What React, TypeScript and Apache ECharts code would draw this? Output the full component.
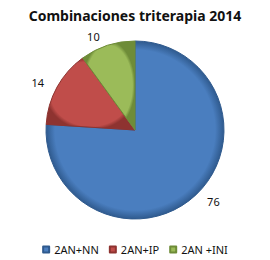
import React, { useEffect, useRef } from "react";
import * as echarts from "echarts";

const title = "Combinaciones triterapia 2014";
const categories = ["2AN+NN", "2AN+IP", "2AN +INI"];
const values = [76, 14, 10];
const colors = ["#4A7EBF", "#C04D4A", "#9BBB59"];
const borders = ["#2F5A8E", "#8E3330", "#6E8C38"];

export default function App() {
  const ref = useRef<HTMLDivElement>(null);
  useEffect(() => {
    const chart = echarts.init(ref.current!, null, { renderer: "svg" });
    chart.setOption({
      animation: false,
      backgroundColor: "#ffffff",
      title: {
        text: title,
        left: "center",
        top: 3,
        textStyle: { fontFamily: "Noto Sans", fontWeight: "bold", fontSize: 14, color: "#111" },
      },
      legend: {
        top: 239,
        left: "center",
        itemWidth: 6,
        itemHeight: 6,
        itemGap: 10,
        icon: "rect",
        textStyle: { fontFamily: "Noto Sans", fontSize: 11, color: "#111" },
        data: categories,
      },
      series: [
        {
          type: "pie",
          center: [135, 130],
          radius: 89,
          startAngle: 90,
          clockwise: true,
          data: categories.map((c, i) => ({
            name: c,
            value: values[i],
            itemStyle: {
              color: new echarts.graphic.RadialGradient(0.5, 0.5, 0.5, [
                { offset: 0, color: colors[i] },
                { offset: 0.9, color: colors[i] },
                { offset: 1, color: borders[i] },
              ]),
              borderColor: borders[i],
              borderWidth: 1,
            },
          })),
          label: {
            show: true,
            position: "outside",
            formatter: "{c}",
            fontFamily: "Noto Sans",
            fontSize: 11,
            color: "#111",
          },
          labelLine: { show: false, length: 9, length2: 0 },
        },
      ],
    });
    return () => chart.dispose();
  }, []);
  return <div ref={ref} style={{ width: 270, height: 260, position: "absolute", left: 0, top: 0 }} />;
}
